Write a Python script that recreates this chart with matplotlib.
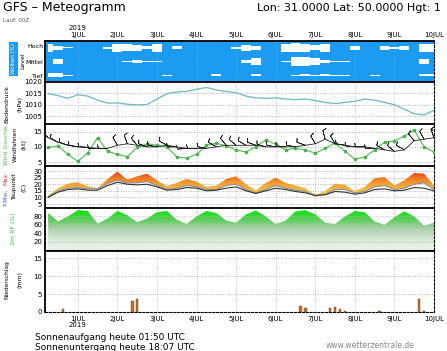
import numpy as np
import matplotlib
matplotlib.use('Agg')
import matplotlib.pyplot as plt
from matplotlib.colors import LinearSegmentedColormap
from matplotlib.patches import PathPatch

# ---------------- data ----------------
day_labels = ['1JUL', '2JUL', '3JUL', '4JUL', '5JUL', '6JUL', '7JUL', '8JUL', '9JUL', '10JUL']
year_label = '2019'
start_day = -0.75     # 30 JUN 06Z, in days from 1 JUL 00Z
step_day = 0.25       # 6-hourly values

pressure = [1014.9, 1014.0, 1012.8, 1014.4, 1013.8, 1012.0, 1010.7, 1010.8, 1010.2, 1009.9,
            1010.1, 1012.5, 1014.9, 1015.6, 1015.9, 1016.8, 1017.6, 1016.5, 1015.8, 1015.3,
            1013.8, 1013.0, 1012.8, 1013.0, 1012.5, 1012.2, 1012.5, 1011.8, 1011.0, 1010.5,
            1011.0, 1011.5, 1012.5, 1012.0, 1011.0, 1010.0, 1008.0, 1006.0, 1005.5, 1007.5]

wind_speed = [9.8, 10.3, 7.5, 5.2, 8.0, 13.0, 8.5, 7.5, 6.8, 9.8,
              11.0, 10.5, 10.0, 6.7, 6.3, 7.5, 10.5, 11.2, 10.3, 9.0,
              8.3, 10.0, 12.3, 10.8, 9.0, 9.5, 9.0, 7.9, 9.5, 11.3,
              8.5, 6.0, 6.6, 9.0, 11.5, 12.0, 13.5, 15.5, 10.0, 8.3]

barb_speed = [13, 11.5, 10.5, 10, 9.8, 9.5, 9.5, 10.5, 11, 10.5,
              10, 10, 10.5, 10, 9.5, 9.5, 9.5, 10, 10.5, 10.5,
              10.5, 10.5, 10, 10, 10, 10, 10.5, 11, 12.5, 11,
              10.5, 10, 10, 9.5, 9, 8.5, 9, 12, 12.5, 13]

wind_dir = [315, 300, 290, 280, 275, 270, 270, 330, 340, 320,
            290, 280, 300, 270, 265, 270, 280, 300, 320, 310,
            300, 290, 285, 280, 275, 280, 290, 330, 345, 330,
            280, 275, 270, 270, 300, 310, 300, 320, 330, 340]

t_max = [11.5, 17.0, 20.5, 21.5, 18.5, 17.0, 24.0, 29.5, 23.5, 26.0,
         28.0, 23.0, 18.5, 21.0, 24.0, 22.0, 18.0, 19.0, 24.0, 26.0,
         20.0, 15.5, 21.0, 25.0, 21.0, 19.0, 17.0, 12.0, 15.0, 20.5,
         19.5, 15.0, 18.0, 24.5, 25.5, 19.0, 23.0, 28.5, 28.0, 19.0]

t_min = [10.5, 15.0, 17.0, 17.5, 16.5, 16.5, 20.5, 23.0, 21.0, 21.0,
         22.0, 19.0, 16.0, 17.0, 19.0, 18.0, 16.0, 16.0, 19.0, 20.0,
         16.0, 13.5, 16.0, 19.0, 17.0, 15.5, 14.5, 11.0, 12.5, 16.0,
         16.0, 13.5, 14.5, 18.0, 19.0, 16.0, 17.0, 20.0, 21.0, 16.0]

dew_point = [10.0, 14.0, 16.0, 16.5, 15.5, 15.5, 19.0, 21.5, 20.0, 19.5,
             20.0, 18.0, 15.5, 16.0, 17.5, 17.0, 15.0, 15.5, 17.0, 18.0,
             15.0, 13.0, 15.0, 17.0, 16.0, 14.5, 13.5, 11.5, 12.0, 14.5,
             14.0, 12.5, 13.5, 16.0, 16.5, 15.0, 15.5, 17.5, 17.0, 15.0]

rel_hum = [88, 68, 80, 95, 93, 63, 75, 93, 83, 66,
           75, 90, 93, 72, 62, 80, 93, 88, 70, 65,
           85, 94, 80, 62, 70, 92, 95, 85, 65, 62,
           80, 93, 90, 68, 60, 78, 92, 80, 58, 65]

cloud_high = [60, 30, 10, 0, 0, 0, 20, 65, 55, 50,
              25, 65, 0, 25, 0, 0, 0, 0, 0, 20,
              50, 30, 0, 0, 70, 75, 60, 40, 60, 5,
              0, 30, 0, 0, 30, 15, 35, 0, 60, 60]

cloud_mid = [0, 35, 0, 0, 0, 0, 0, 0, 10, 25,
             10, 10, 0, 0, 0, 0, 0, 0, 0, 0,
             20, 60, 0, 0, 10, 75, 80, 60, 20, 10,
             5, 0, 0, 0, 0, 0, 0, 0, 35, 0]

cloud_low = [30, 30, 10, 0, 0, 0, 0, 0, 0, 0,
             0, 0, 8, 0, 0, 0, 0, 12, 0, 0,
             0, 12, 0, 0, 0, 10, 12, 10, 12, 10,
             10, 0, 0, 8, 0, 0, 0, 0, 15, 15]

precip_time = [-0.375, 1.375, 1.5, 5.625, 5.75, 6.375, 6.5, 6.625, 6.75, 7.625, 8.625, 8.75]
precip_mm = [0.7, 3.0, 3.6, 1.6, 1.0, 1.0, 1.4, 0.7, 0.3, 0.2, 3.75, 0.3]
precip_kind = ['conv', 'rain', 'rain', 'rain', 'rain', 'rain', 'rain', 'rain', 'rain', 'rain', 'rain', 'rain']

# ---------------- layout ----------------
W, H = 447, 351
fig = plt.figure(figsize=(W / 100, H / 100), dpi=100)
fig.patch.set_facecolor('white')
X0, X1 = 45, 434
XLIM = (-0.83, 9.0)

t = start_day + step_day * np.arange(len(pressure))


def panel(y0, y1):
    ax = fig.add_axes([X0 / W, 1 - y1 / H, (X1 - X0) / W, (y1 - y0) / H])
    ax.set_xlim(*XLIM)
    ax.set_xticks([])
    for s in ['top', 'left']:
        ax.spines[s].set_linewidth(1.3)
        ax.spines[s].set_color('black')
    for s in ['right', 'bottom']:
        ax.spines[s].set_linewidth(0.8)
        ax.spines[s].set_linestyle((0, (2, 1.5)))
    ax.tick_params(axis='y', length=0, pad=2, labelsize=5)
    return ax


def vgrid(ax, color='#a0a0a0'):
    for d in range(0, 9):
        ax.axvline(d, color=color, lw=0.5, ls=(0, (1, 2)), zorder=0.6)


def hgrid(ax, vals, color='#a0a0a0', z=0.6):
    for v in vals:
        ax.axhline(v, color=color, lw=0.5, ls=(0, (1.5, 2)), zorder=z)


def gradient_fill(ax, x, lo, hi, cmap, vmin, vmax, z=1):
    poly = ax.fill_between(x, lo, hi, color='none', lw=0)
    path = poly.get_paths()[0]
    patch = PathPatch(path, transform=ax.transData, fc='none', ec='none')
    ax.add_patch(patch)
    grad = np.linspace(vmin, vmax, 256).reshape(-1, 1)
    im = ax.imshow(grad, extent=[XLIM[0], XLIM[1], vmin, vmax], origin='lower',
                   aspect='auto', cmap=cmap, vmin=vmin, vmax=vmax, zorder=z,
                   interpolation='bilinear')
    im.set_clip_path(patch)


def ftext(x, y, s, **kw):
    fig.text(x / W, 1 - y / H, s, **kw)


# ---- cloud panel ----
BLUE = '#1b9bf2'
axc = panel(41, 82)
axc.set_facecolor(BLUE)
axc.set_ylim(0, 3)
axc.set_yticks([])
vgrid(axc, color='#7cc4ff')
for cover, centre in [(cloud_high, 2.5), (cloud_mid, 1.5), (cloud_low, 0.5)]:
    h = 0.45 * np.array(cover) / 100.0
    axc.fill_between(t, centre - h, centre + h, step='mid', color='white', lw=0, zorder=2)
axc.set_xlim(*XLIM)
axc.xaxis.tick_top()
axc.set_xticks(range(10))
axc.set_xticklabels(day_labels, fontsize=5)
axc.tick_params(axis='x', length=0, pad=2)
ftext(77.8, 28, year_label, fontsize=5, ha='center', va='center')

ftext(13.5, 59, 'Wolken (%)', rotation=90, color='white', fontsize=4,
      ha='center', va='center',
      bbox=dict(boxstyle='square,pad=0.35', fc=BLUE, ec='none'))
ftext(23, 61, 'Level', rotation=90, fontsize=4.5, ha='center', va='center')
ftext(43, 46, 'Hoch', fontsize=4.5, ha='right', va='center')
ftext(43, 62, 'Mittel', fontsize=4.5, ha='right', va='center')
ftext(43, 77, 'Tief', fontsize=4.5, ha='right', va='center')

# ---- pressure panel ----
axp = panel(82, 124)
axp.set_ylim(1001.5, 1020)
axp.set_yticks([1005, 1010, 1015, 1020])
vgrid(axp)
hgrid(axp, [1005, 1010, 1015])
axp.plot(t, pressure, color='#6fb6c2', lw=0.9, zorder=3)
ftext(7, 104, 'Bodendruck', rotation=90, fontsize=4.5, ha='center', va='center')
ftext(20, 104, '(hPa)', rotation=90, fontsize=4.5, ha='center', va='center')

# ---- wind panel ----
axw = panel(124, 166)
axw.set_ylim(3.7, 17.5)
axw.set_yticks([5, 10, 15])
vgrid(axw)
hgrid(axw, [5, 10, 15])
axw.plot(t, wind_speed, color='#5fbf5f', lw=0.9, marker='o', ms=1.6,
         mfc='#4caf4c', mec='#4caf4c', zorder=3)
bs = np.array(barb_speed)
wd = np.deg2rad(np.array(wind_dir))
u = -bs * np.sin(wd)
v = -bs * np.cos(wd)
axw.plot(t, bs, color='#202020', lw=0.6, zorder=4)
axw.barbs(t, bs, u, v, length=3.6, linewidth=0.5, color='#202020', pivot='tip',
          sizes=dict(emptybarb=0.0, spacing=0.2, height=0.4), zorder=4)
axw.set_xlim(*XLIM)
ftext(6.5, 145, 'Wind Geschw.', rotation=90, fontsize=4.2, color='#4cbf4c', ha='center', va='center')
ftext(15, 145, 'Windfahnen', rotation=90, fontsize=4.2, ha='center', va='center')
ftext(24, 145, '(kt)', rotation=90, fontsize=4.5, ha='center', va='center')

# ---- temperature panel ----
axt = panel(166, 208)
axt.set_ylim(2, 33.8)
axt.set_yticks([5, 10, 15, 20, 25, 30])
vgrid(axt)
hgrid(axt, [5, 10, 15, 20, 25, 30])
tcmap = LinearSegmentedColormap.from_list('tband', [
    (0.0, '#f7d67a'), (0.35, '#f4c048'), (0.55, '#f0a030'),
    (0.72, '#ef7424'), (0.85, '#ee3c1c'), (1.0, '#e81414')])
gradient_fill(axt, t, t_min, t_max, tcmap, 5, 33, z=2)
axt.plot(t, t_min, color='#8a8f9c', lw=0.8, zorder=3)
axt.plot(t, dew_point, color='#303030', lw=0.8, zorder=3)
axt.set_xlim(*XLIM)
axt.set_ylim(2, 33.8)
ftext(6, 207, 'T-Min,', rotation=90, fontsize=4.2, color='#3d5fd0', ha='center', va='bottom')
ftext(6, 185, 'Max', rotation=90, fontsize=4.2, color='#e03030', ha='center', va='bottom')
ftext(15, 187, 'Taupunkt', rotation=90, fontsize=4.2, ha='center', va='center')
ftext(24, 187, '(C)', rotation=90, fontsize=4.5, ha='center', va='center')

# ---- humidity panel ----
axr = panel(208, 250)
axr.set_ylim(0, 100)
axr.set_yticks([20, 40, 60, 80])
vgrid(axr)
rcmap = LinearSegmentedColormap.from_list('rh', [
    (0.0, '#eef6ee'), (0.25, '#d6e8d6'), (0.5, '#afd2af'),
    (0.7, '#66cc66'), (0.88, '#22dd22'), (1.0, '#10e010')])
gradient_fill(axr, t, np.zeros(len(rel_hum)), rel_hum, rcmap, 0, 100, z=1)
hgrid(axr, [20, 40, 60, 80], color='#b8b8b8', z=2.5)
axr.set_xlim(*XLIM)
axr.set_ylim(0, 100)
ftext(13, 229, '2m RF (%)', rotation=90, fontsize=4.5, color='#44bb44', ha='center', va='center')

# ---- precipitation panel ----
axn = panel(251, 312)
axn.set_ylim(0, 17)
axn.set_yticks([0, 5, 10, 15])
vgrid(axn)
hgrid(axn, [5, 10, 15])
bar_cols = ['#8c8a3a' if k == 'conv' else '#b8722e' for k in precip_kind]
axn.bar(precip_time, precip_mm, width=0.065, color=bar_cols, edgecolor='#6a4418',
        lw=0.3, zorder=3)
axn.set_xticks(range(10))
axn.set_xticklabels(day_labels, fontsize=5)
axn.tick_params(axis='x', length=0, pad=3)
axn.set_xlim(*XLIM)
ftext(77.8, 325, year_label, fontsize=5, ha='center', va='center')
ftext(7, 280, 'Niederschlag', rotation=90, fontsize=4.2, ha='center', va='center')
ftext(20, 280, '(mm)', rotation=90, fontsize=4.5, ha='center', va='center')

# ---- header / footer texts ----
ftext(3, 8, 'GFS \u2013 Meteogramm', fontsize=9, ha='left', va='center')
ftext(257, 8, 'Lon: 31.0000 Lat: 50.0000 Hgt: 1', fontsize=8, ha='left', va='center')
ftext(3, 20, 'Lauf: 00Z', fontsize=4, ha='left', va='center', color='#555555')
ftext(35, 337, 'Sonnenaufgang heute 01:50 UTC', fontsize=6.5, ha='left', va='center')
ftext(35, 347, 'Sonnenuntergang heute 18:07 UTC', fontsize=6.5, ha='left', va='center')
ftext(370, 345, 'www.wetterzentrale.de', fontsize=5.5, ha='center', va='center', color='#888888')

fig.savefig('out.png', dpi=100)
